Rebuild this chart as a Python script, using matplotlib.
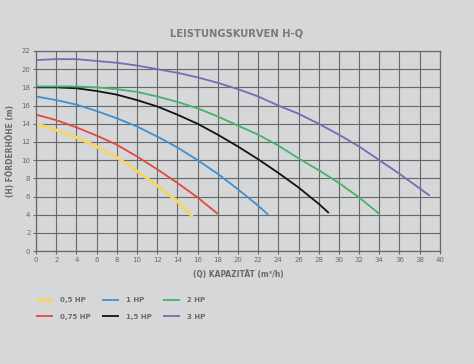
import matplotlib
matplotlib.use("Agg")
import matplotlib.pyplot as plt

# Data
q_05 = [0, 2, 4, 6, 8, 10, 12, 14, 15.5]
h_05 = [14.0, 13.3, 12.5, 11.5, 10.3, 8.8, 7.2, 5.5, 3.8]
q_075 = [0, 2, 4, 6, 8, 10, 12, 14, 16, 18]
h_075 = [15.0, 14.4, 13.6, 12.7, 11.7, 10.4, 9.0, 7.5, 5.9, 4.1]
q_1 = [0, 2, 4, 6, 8, 10, 12, 14, 16, 18, 20, 22, 23]
h_1 = [17.0, 16.6, 16.1, 15.4, 14.6, 13.7, 12.6, 11.4, 10.0, 8.5, 6.8, 5.0, 4.0]
q_15 = [0, 2, 4, 6, 8, 10, 12, 14, 16, 18, 20, 22, 24, 26, 28, 29]
h_15 = [18.0, 18.0, 17.9, 17.6, 17.2, 16.6, 15.9, 15.0, 14.0, 12.8, 11.5, 10.1, 8.6, 7.0, 5.2, 4.2]
q_2 = [0, 2, 4, 6, 8, 10, 12, 14, 16, 18, 20, 22, 24, 26, 28, 30, 32, 34]
h_2 = [18.1, 18.1, 18.1, 18.0, 17.8, 17.5, 17.0, 16.4, 15.7, 14.8, 13.8, 12.8, 11.6, 10.2, 8.9, 7.5, 5.9, 4.1]
q_3 = [0, 2, 4, 6, 8, 10, 12, 14, 16, 18, 20, 22, 24, 26, 28, 30, 32, 34, 36, 38, 39]
h_3 = [21.0, 21.1, 21.1, 20.9, 20.7, 20.4, 20.0, 19.6, 19.1, 18.5, 17.8, 17.0, 16.0, 15.1, 14.0, 12.8, 11.5, 10.0, 8.5, 6.9, 6.1]

labels = ["0,5 HP", "0,75 HP", "1 HP", "1,5 HP", "2 HP", "3 HP"]
colors = ["#f3d56a", "#e5493b", "#3f8fd2", "#121212", "#45b36c", "#7c68b6"]
widths = [2.2, 1.3, 1.3, 1.3, 1.3, 1.3]
series = [(q_05, h_05), (q_075, h_075), (q_1, h_1), (q_15, h_15), (q_2, h_2), (q_3, h_3)]

bg = "#d6d7d9"
txt = "#6a6a6a"
plt.rcParams['font.family'] = ['DejaVu Sans']

fig = plt.figure(figsize=(4.74, 3.64), dpi=100, facecolor=bg)
ax = fig.add_axes([0.076, 0.31, 0.852, 0.55], facecolor=bg)

lines = []
for (q, h), c, lw, lab in zip(series, colors, widths, labels):
    ln, = ax.plot(q, h, color=c, lw=lw, label=lab, solid_capstyle='butt')
    lines.append(ln)

ax.set_xlim(0, 40)
ax.set_ylim(0, 22)
ax.set_xticks(range(0, 41, 2))
ax.set_yticks(range(0, 23, 2))
ax.grid(True, color="#686868", lw=0.8)
ax.set_axisbelow(True)
for s in ax.spines.values():
    s.set_color("#686868")
    s.set_linewidth(0.9)
ax.tick_params(colors="#686868", labelcolor=txt, labelsize=5, length=2, width=0.8, pad=2)

ax.set_xlabel("(Q) KAPAZITÄT (m³/h)", fontsize=6, color=txt, fontweight='bold', fontstretch='condensed', labelpad=5)
ax.set_ylabel("(H) FÖRDERHÖHE (m)", fontsize=6, color=txt, fontweight='bold', fontstretch='condensed', labelpad=5)
fig.text(0.5, 0.909, "LEISTUNGSKURVEN H-Q", ha='center', va='center', fontsize=8, color="#7a7a7a", fontweight='bold', fontstretch='condensed')

leg = fig.legend(handles=lines, labels=labels, loc='upper left', bbox_to_anchor=(0.062, 0.2),
                 ncol=3, frameon=False, fontsize=5, labelcolor=txt, handlelength=2.5,
                 columnspacing=1.6, handletextpad=1.0, labelspacing=1.45)
for t in leg.get_texts():
    t.set_fontweight('bold')

fig.savefig("out.png", dpi=100, facecolor=bg)
